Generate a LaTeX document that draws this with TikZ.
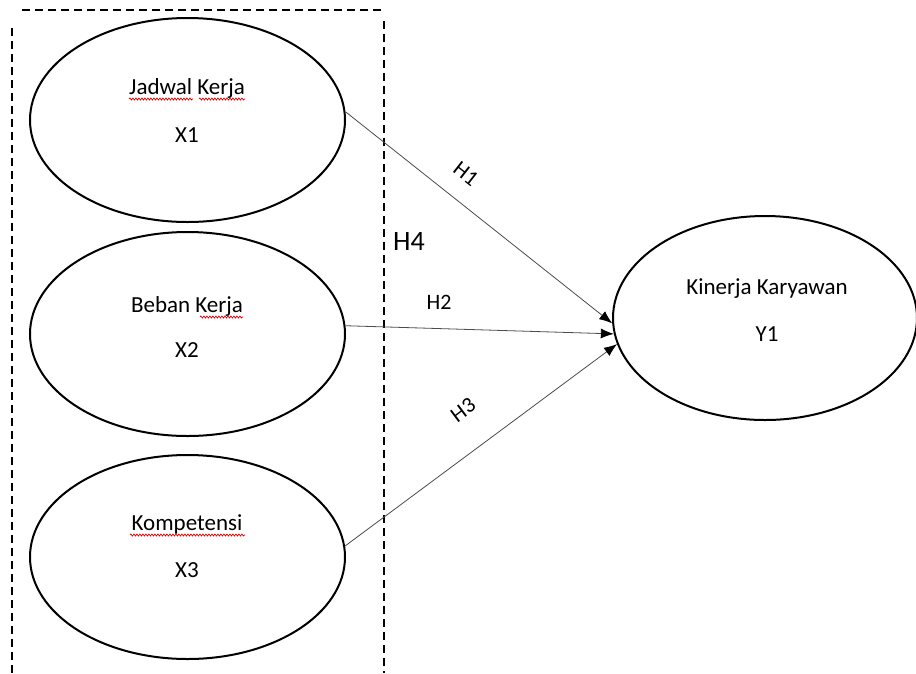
\documentclass[tikz,border=0pt]{standalone}
\usepackage{fontspec}
\setmainfont{Carlito}
\usetikzlibrary{shapes.geometric,arrows.meta,decorations.pathmorphing}
\begin{document}
\begin{tikzpicture}[x=1pt,y=-1pt,
  varell/.style={draw,line width=2pt,ellipse,minimum width=315pt,minimum height=204pt,inner sep=0pt},
  yell/.style={draw,line width=2pt,ellipse,minimum width=304pt,minimum height=204pt,inner sep=0pt},
  txt/.style={anchor=base,inner sep=0pt,font=\fontsize{23}{27}\selectfont},
  hyp/.style={inner sep=0pt,font=\fontsize{22}{26}\selectfont},
  link/.style={line width=0.8pt,draw=black!70,-{Latex[length=13pt,width=10pt,color=black]}},
  dashbox/.style={line width=2pt,dash pattern=on 8pt off 5pt},
  spell/.style={draw=red!85!black,line width=0.7pt,decorate,decoration={snake,amplitude=1pt,segment length=3pt}}]
\useasboundingbox (0,0) rectangle (916,673);
\fill[white] (0,0) rectangle (916,673);
% dashed frame
\coordinate (t1) at (22,10);
\coordinate (t2) at (381,10);
\coordinate (r1) at (384,21);
\coordinate (r2) at (384,673);
\coordinate (l1) at (12,28);
\coordinate (l2) at (12,673);
\draw[dashbox] (t1) -- (t2);
\draw[dashbox] (r1) -- (r2);
\draw[dashbox] (l1) -- (l2);
% ellipses
\node[varell] (x1) at (187.5,120) {};
\node[varell] (x2) at (187.5,334) {};
\node[varell] (x3) at (187.5,557) {};
\node[yell] (y1) at (765,318) {};
% texts
\node[txt] (x1a) at (187,94) {Jadwal Kerja};
\node[txt] (x1b) at (187,142) {X1};
\node[txt] (x2a) at (187,312) {Beban Kerja};
\node[txt] (x2b) at (187,357) {X2};
\node[txt] (x3a) at (187,530) {Kompetensi};
\node[txt] (x3b) at (187,577) {X3};
\node[txt] (y1a) at (767,294) {Kinerja Karyawan};
\node[txt] (y1b) at (767,341) {Y1};
% spell-check underlines
\draw[spell] (129,99) -- (193,99);
\draw[spell] (199,99) -- (245,99);
\draw[spell] (200,317) -- (243,317);
\draw[spell] (130,535) -- (245,535);
% connectors
\draw[link] (x1.3) -- (y1.182);
\draw[link] (x2.3) -- (y1.186);
\draw[link] (x3.4) -- (y1.190);
% hypothesis labels
\node[hyp,rotate=-38] (h1) at (466,174) {H1};
\node[hyp,anchor=base] (h2) at (439,309) {H2};
\node[hyp,rotate=37] (h3) at (463,410) {H3};
\node[inner sep=0pt,anchor=base,font=\fontsize{28}{32}\selectfont] (h4) at (409,250) {H4};
\end{tikzpicture}
\end{document}
